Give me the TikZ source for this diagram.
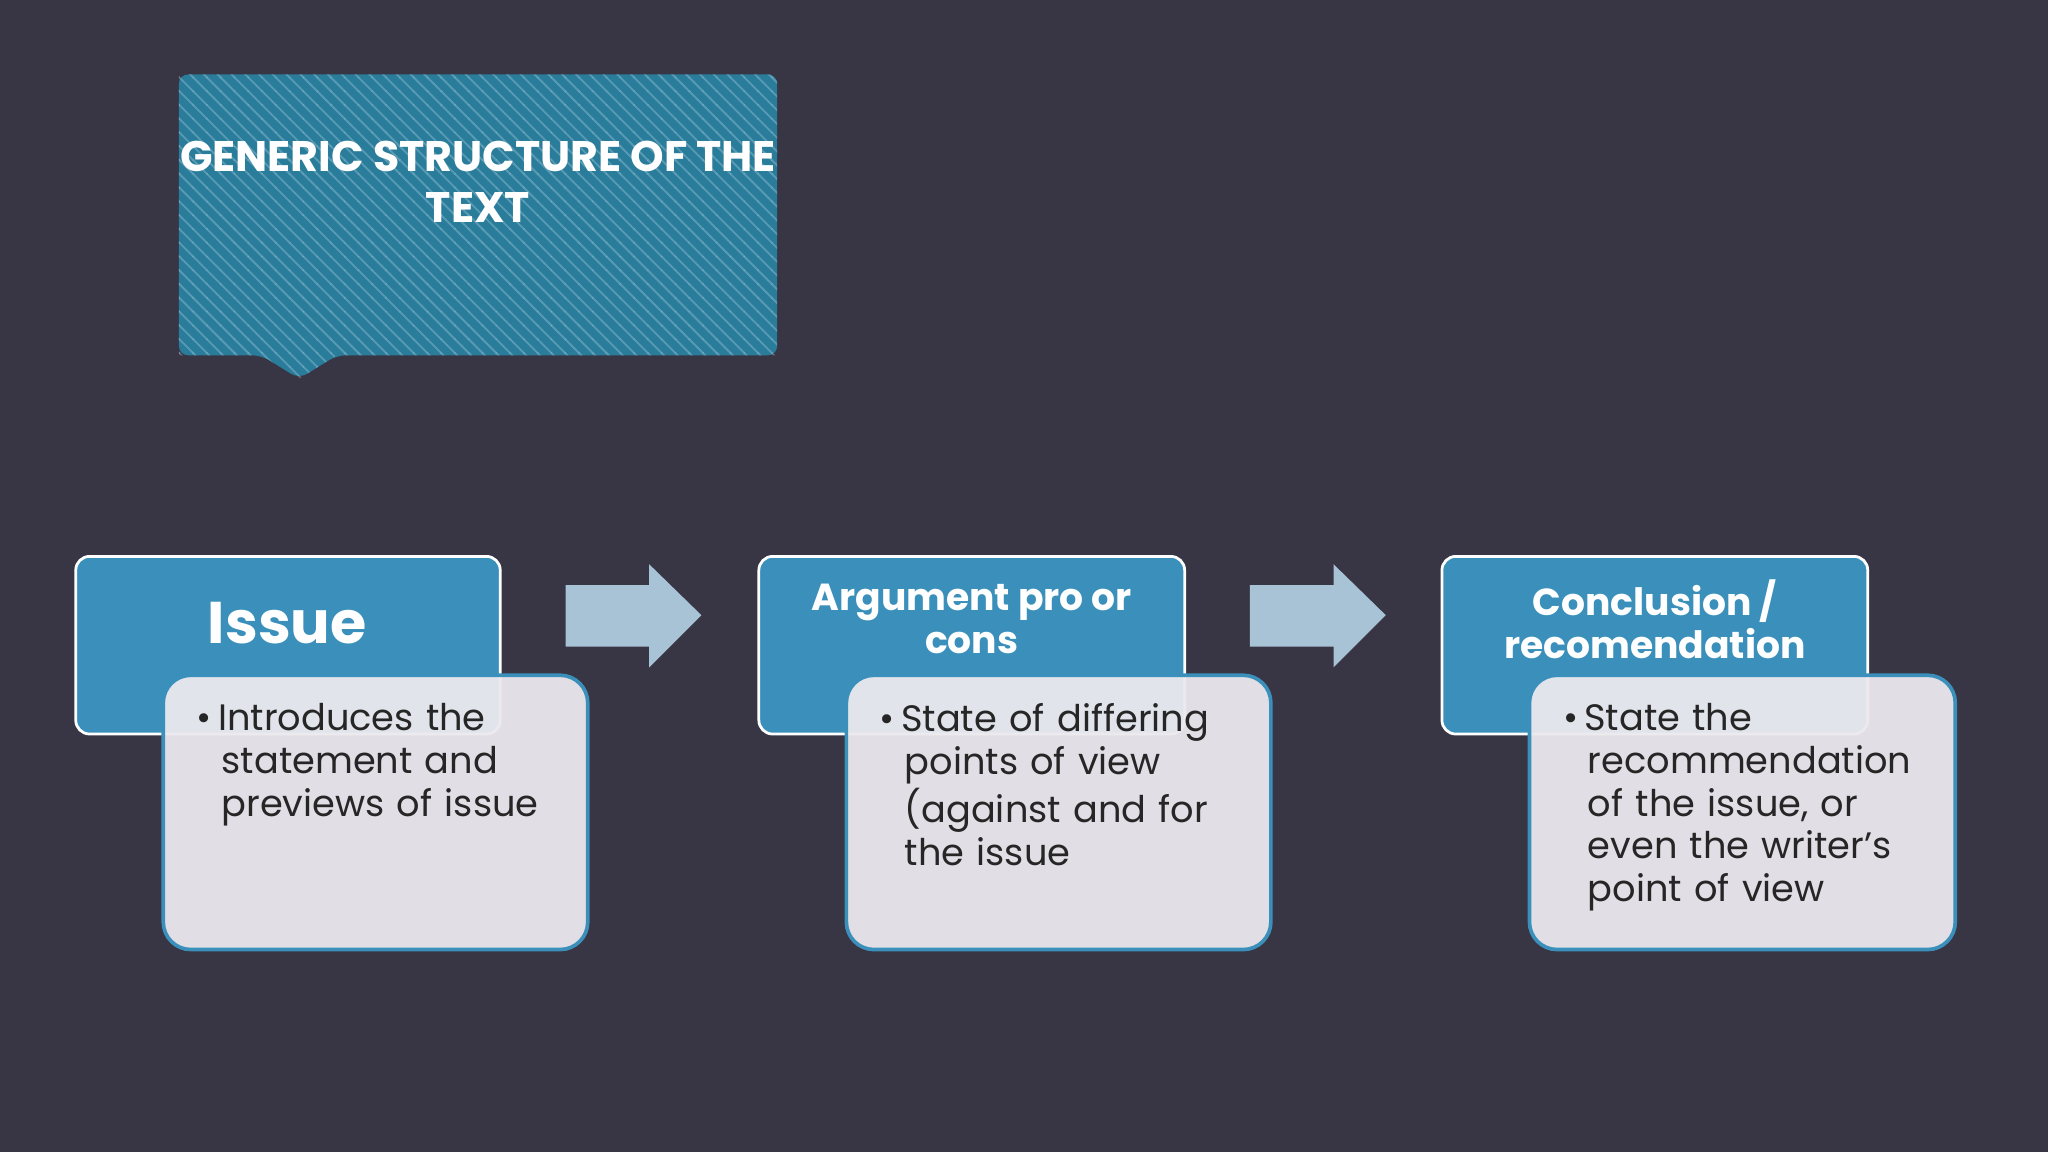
\documentclass[tikz,border=0pt]{standalone}
\usepackage{fontspec}
\setmainfont{Poppins}
\usetikzlibrary{patterns,shapes.arrows}
\definecolor{bg}{HTML}{383545}
\definecolor{hblue}{HTML}{3A90BB}
\definecolor{lbox}{HTML}{EBE9EE}
\definecolor{arr}{HTML}{A9C3D6}
\begin{document}
\begin{tikzpicture}[x=0.01cm,y=-0.01cm,
  head/.style={draw=white,line width=0.6pt,fill=hblue,rounded corners=3pt},
  body/.style={draw=hblue,line width=0.8pt,fill=lbox,fill opacity=0.95,rounded corners=6pt},
  htext/.style={text=white,font=\bfseries\fontsize{8.2}{9.3}\selectfont,align=center},
  btext/.style={text=black!85,font=\fontsize{8}{9.3}\selectfont,align=left,anchor=north west,text width=2.9cm,inner sep=0pt},
  barrow/.style={fill=arr}]
\fill[bg] (0,0) rectangle (1568,882);
\useasboundingbox (0,0) rectangle (1568,882);
% title
\fill[hblue!90!cyan!80!black,rounded corners=2pt] (137,57) -- (595,57) -- (595,272) -- (258,272) -- (229,290) -- (200,272) -- (137,272) -- cycle;
\fill[pattern=north west lines,pattern color=white!60!hblue,opacity=0.35] (137,57) -- (595,57) -- (595,272) -- (258,272) -- (229,290) -- (200,272) -- (137,272) -- cycle;
\node[text=white,font=\bfseries\fontsize{9.3}{11}\selectfont,align=center] (title) at (366,139) {GENERIC STRUCTURE OF THE\\TEXT};
% arrows
\fill[barrow] (433,448) -- (497,448) -- (497,432) -- (537,471) -- (497,511) -- (497,495) -- (433,495) -- cycle;
\fill[barrow] (957,448) -- (1021,448) -- (1021,432) -- (1061,471) -- (1021,511) -- (1021,495) -- (957,495) -- cycle;
% boxes
\draw[head] (58,426) rectangle (383,562);
\draw[head] (581,426) rectangle (907,562);
\draw[head] (1104,426) rectangle (1430,562);
\node[htext,font=\bfseries\fontsize{12.8}{14}\selectfont] (h1) at (220,477) {Issue};
\node[htext] (h2) at (744,474) {Argument pro or\\cons};
\node[htext] (h3) at (1267,474) {Conclusion /\\recomendation};
\draw[body] (125,517) rectangle (450,727);
\draw[body] (648,517) rectangle (973,727);
\draw[body] (1171,517) rectangle (1497,727);
\node[btext] (b1) at (150,538) {\textbullet\,Introduces the\\\hspace*{0.19cm}statement and\\\hspace*{0.19cm}previews of issue};
\node[btext] (b2) at (673,538) {\textbullet\,State of differing\\\hspace*{0.19cm}points of view\\\hspace*{0.19cm}(against and for\\\hspace*{0.19cm}the issue};
\node[btext] (b3) at (1196,538) {\textbullet\,State the\\\hspace*{0.19cm}recommendation\\\hspace*{0.19cm}of the issue, or\\\hspace*{0.19cm}even the writer’s\\\hspace*{0.19cm}point of view};
\end{tikzpicture}
\end{document}
